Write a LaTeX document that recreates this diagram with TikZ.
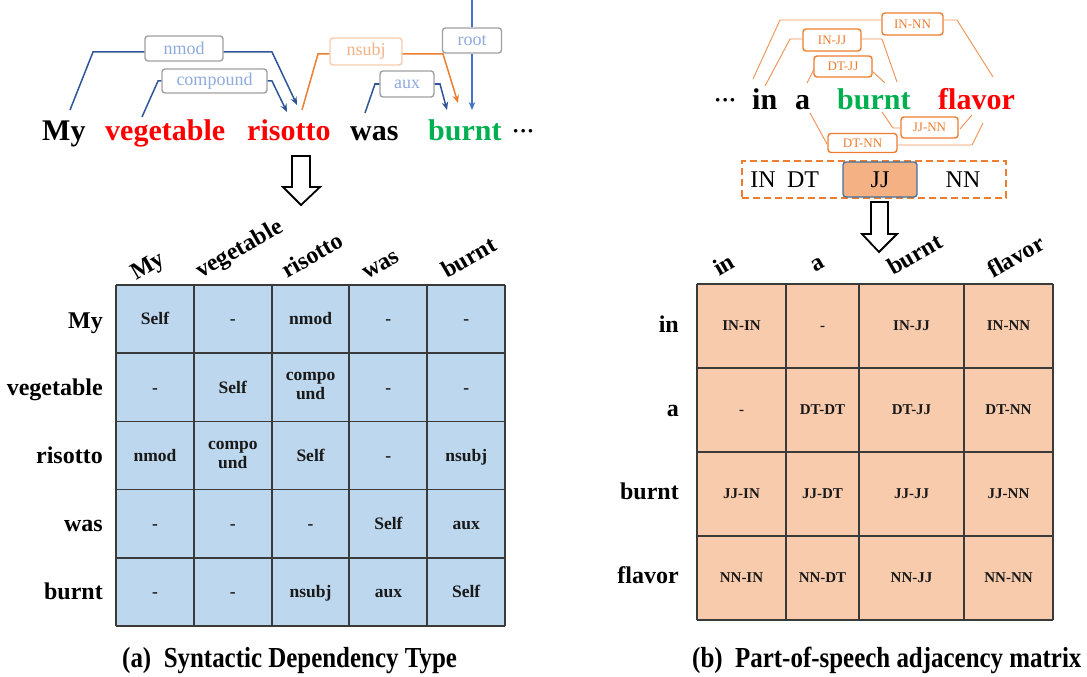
\documentclass[tikz,border=0pt]{standalone}
\usepackage{fontspec}
\setmainfont{Liberation Serif}
\usetikzlibrary{arrows.meta,calc}
\definecolor{depblue}{HTML}{2F5597}
\definecolor{rootblue}{HTML}{4472C4}
\definecolor{tagblue}{HTML}{8FAADC}
\definecolor{taggray}{HTML}{A0A0A0}
\definecolor{deporange}{HTML}{ED7D31}
\definecolor{nsubjtext}{HTML}{F4B183}
\definecolor{nsubjbox}{HTML}{F8CBAD}
\definecolor{posorange}{HTML}{ED7D31}
\definecolor{jjfill}{HTML}{F4B183}
\definecolor{jjborder}{HTML}{41719C}
\definecolor{bluefill}{HTML}{BDD7EE}
\definecolor{peachfill}{HTML}{F8CBAD}
\definecolor{wred}{HTML}{FF0000}
\definecolor{wgreen}{HTML}{00B050}
\definecolor{gridgray}{HTML}{3A3A3A}
\begin{document}
\begin{tikzpicture}[x=1pt,y=-1pt,
  word/.style={font=\fontsize{30}{36}\selectfont\bfseries, inner sep=0pt, anchor=base west},
  dots/.style={font=\fontsize{22}{26}\selectfont\bfseries, inner sep=0pt, anchor=base west},
  rowlbl/.style={font=\fontsize{24}{28}\selectfont\bfseries, inner sep=0pt, anchor=base east},
  collbl/.style={font=\fontsize{24}{28}\selectfont\bfseries, inner sep=0pt, anchor=base west, rotate=30},
  cellL/.style={font=\fontsize{17.5}{19}\selectfont\bfseries, align=center, inner sep=0pt, text=black!90,
     execute at begin node=\strut, execute at end node=\strut},
  cellR/.style={font=\fontsize{15}{18}\selectfont\bfseries, inner sep=0pt, text=black!90,
     execute at begin node=\strut},
  deptag/.style={draw=taggray, line width=1.4pt, rounded corners=3pt, fill=white, inner sep=0pt,
     font=\fontsize{18}{20}\selectfont, text=tagblue},
  postag/.style={draw=posorange, line width=1.4pt, rounded corners=3pt, fill=white, inner sep=0pt,
     font=\fontsize{13}{15}\selectfont, text=posorange},
  dep/.style={line width=1.5pt, draw=depblue},
  deparrow/.style={dep, -{Stealth[length=8pt,width=6.5pt]}},
  posline/.style={line width=0.9pt, draw=posorange!85},
  gridL/.style={draw=gridgray, line width=1.5pt},
  gridR/.style={draw=gridgray, line width=1.3pt},
  bigarrow/.style={draw=black, line width=1.8pt, fill=white, line join=miter},
  poslbl/.style={font=\fontsize{24}{28}\selectfont, inner sep=0pt},
  captext/.style={font=\fontsize{29}{32}\selectfont\bfseries, inner sep=0pt, anchor=base west}
]
\useasboundingbox (0,0) rectangle (1087,677);

% ---------------- (a) sentence ----------------
\node[word] (wMy) at (42,140) {My};
\node[word, text=wred] (wVeg) at (105,140) {vegetable};
\node[word, text=wred] (wRis) at (247,140) {risotto};
\node[word] (wWas) at (350,140) {was};
\node[word, text=wgreen] (wBurnt) at (428,140) {burnt};
\node[dots] (wDots) at (512,138) {···};

% dependency tags
\node[deptag, minimum width=78pt, minimum height=25pt] (tNmod) at (184,48.5) {nmod};
\node[deptag, minimum width=105pt, minimum height=24pt] (tComp) at (214.5,81) {compound};
\node[deptag, draw=nsubjbox, text=nsubjtext, minimum width=72pt, minimum height=27pt] (tNsubj) at (366,51.5) {nsubj};
\node[deptag, minimum width=54pt, minimum height=26pt] (tAux) at (407,84) {aux};
\node[deptag, minimum width=59pt, minimum height=25pt] (tRoot) at (472,40.5) {root};

\coordinate (nmodS) at (70,110);   \coordinate (nmodA) at (93,52);
\coordinate (nmodB) at (272,52);   \coordinate (nmodE) at (297,105);
\coordinate (compS) at (142,117);  \coordinate (compA) at (158,81);
\coordinate (compB) at (272,81);   \coordinate (compE) at (287,112);
\coordinate (nsubjS) at (302,110); \coordinate (nsubjA) at (318,54);
\coordinate (nsubjB) at (443,54);  \coordinate (nsubjE) at (458,103);
\coordinate (auxS) at (365,113);   \coordinate (auxA) at (375,84);
\coordinate (auxB) at (440,84);    \coordinate (auxE) at (447,110);
\coordinate (rootS) at (472,0);    \coordinate (rootE) at (472,110);

\draw[dep] (nmodS) -- (nmodA) -- (tNmod.west |- nmodA);
\draw[deparrow] (tNmod.east |- nmodB) -- (nmodB) -- (nmodE);
\draw[dep] (compS) -- (compA) -- (tComp.west |- compA);
\draw[deparrow] (tComp.east |- compB) -- (compB) -- (compE);
\draw[dep, draw=deporange] (nsubjS) -- (nsubjA) -- (tNsubj.west |- nsubjA);
\draw[deparrow, draw=deporange] (tNsubj.east |- nsubjB) -- (nsubjB) -- (nsubjE);
\draw[dep] (auxS) -- (auxA) -- (tAux.west |- auxA);
\draw[deparrow] (tAux.east |- auxB) -- (auxB) -- (auxE);
\draw[dep, draw=rootblue] (rootS) -- (tRoot.north);
\draw[deparrow, draw=rootblue] (tRoot.south) -- (rootE);

% big arrow (a)
\draw[bigarrow] (292,156) -- (310,156) -- (310,187) -- (320,187) -- (301,205) -- (283,187) -- (292,187) -- cycle;

% ---------------- (a) matrix ----------------
\fill[bluefill] (116,285) rectangle (505,626);
\foreach \x in {116,194,272,349,427,505} \draw[gridL] (\x,285) -- (\x,626);
\foreach \y in {285,353.2,421.4,489.6,557.8,626} \draw[gridL] (116,\y) -- (505,\y);

\node[collbl] (cMy) at (136,281) {My};
\node[collbl] (cVeg) at (201,279) {vegetable};
\node[collbl] (cRis) at (287,279) {risotto};
\node[collbl] (cWas) at (367,280) {was};
\node[collbl] (cBurnt) at (447,279) {burnt};

\node[rowlbl] (rMy) at (103,328) {My};
\node[rowlbl] (rVeg) at (103,395) {vegetable};
\node[rowlbl] (rRis) at (103,463) {risotto};
\node[rowlbl] (rWas) at (103,531) {was};
\node[rowlbl] (rBurnt) at (103,599) {burnt};

\foreach \t [count=\k from 0] in {Self,-,nmod,-,-,
  -,Self,{compo\\und},-,-,
  nmod,{compo\\und},Self,-,nsubj,
  -,-,-,Self,aux,
  -,-,nsubj,aux,Self}{
  \pgfmathtruncatemacro\r{floor(\k/5)}
  \pgfmathtruncatemacro\c{mod(\k,5)}
  \node[cellL] (L\r\c) at ({155+77.8*\c},{321+68.2*\r}) {\t};
}

% ---------------- (b) sentence ----------------
\node[dots] (pDots) at (714,107) {···};
\node[word] (pIn) at (752,109) {in};
\node[word] (pA) at (795,109) {a};
\node[word, text=wgreen] (pBurnt) at (837,109) {burnt};
\node[word, text=wred] (pFlavor) at (938,109) {flavor};

\node[postag, minimum width=61pt, minimum height=22pt] (tINNN) at (912.5,24) {IN-NN};
\node[postag, minimum width=58pt, minimum height=22pt] (tINJJ) at (832,40) {IN-JJ};
\node[postag, minimum width=58pt, minimum height=21pt] (tDTJJ) at (843,66.5) {DT-JJ};
\node[postag, minimum width=57pt, minimum height=21pt] (tJJNN) at (929.5,127.5) {JJ-NN};
\node[postag, minimum width=69pt, minimum height=19pt] (tDTNN) at (862.5,143) {DT-NN};

\coordinate (innnS) at (753,79);  \coordinate (innnA) at (780,20);
\coordinate (innnB) at (957,20);  \coordinate (innnE) at (993,77);
\coordinate (injjS) at (765,86);  \coordinate (injjA) at (790,39);
\coordinate (injjB) at (882,39);  \coordinate (injjE) at (897,82);
\coordinate (dtjjS) at (807,83);  \coordinate (dtjjA) at (814,69);
\coordinate (dtjjB) at (872,71);  \coordinate (dtjjE) at (885,83);
\coordinate (jjnnS) at (882,112); \coordinate (jjnnA) at (893,128);
\coordinate (jjnnB) at (960,129); \coordinate (jjnnE) at (972,115);
\coordinate (dtnnS) at (810,113); \coordinate (dtnnA) at (827,144);
\coordinate (dtnnB) at (972,145); \coordinate (dtnnE) at (983,123);

\draw[posline] (innnS) -- (innnA) -- (tINNN.west |- innnA);
\draw[posline] (tINNN.east |- innnB) -- (innnB) -- (innnE);
\draw[posline] (injjS) -- (injjA) -- (tINJJ.west |- injjA);
\draw[posline] (tINJJ.east |- injjB) -- (injjB) -- (injjE);
\draw[posline] (dtjjS) -- (dtjjA);
\draw[posline] (dtjjB) -- (dtjjE);
\draw[posline] (jjnnS) -- (jjnnA) -- (tJJNN.west |- jjnnA);
\draw[posline] (jjnnB) -- (jjnnE);
\draw[posline] (dtnnS) -- (dtnnA) -- (tDTNN.west |- dtnnA);
\draw[posline] (tDTNN.east |- dtnnB) -- (dtnnB) -- (dtnnE);

% POS sequence
\node[draw=posorange, dash pattern=on 7pt off 4pt, line width=1.8pt, minimum width=264pt, minimum height=37pt, inner sep=0pt] (posBox) at (874,179.5) {};
\node[draw=jjborder, fill=jjfill, rounded corners=3pt, line width=1.3pt, minimum width=74pt, minimum height=35pt, inner sep=0pt] (posJJ) at (880,179.5) {};
\node[poslbl] (posIN) at (763,180) {IN};
\node[poslbl] (posDT) at (803,180) {DT};
\node[poslbl] (posJJt) at (880,180) {JJ};
\node[poslbl] (posNN) at (963,180) {NN};

% big arrow (b)
\draw[bigarrow] (871,202) -- (888,202) -- (888,234) -- (897,234) -- (879,252) -- (862,234) -- (871,234) -- cycle;

% ---------------- (b) matrix ----------------
\fill[peachfill] (697,284) rectangle (1053,620);
\foreach \x in {697,786,859,964,1053} \draw[gridR] (\x,284) -- (\x,620);
\foreach \y in {284,368,452,536,620} \draw[gridR] (697,\y) -- (1053,\y);

\node[collbl] (qIn) at (719,277) {in};
\node[collbl] (qA) at (815,273) {a};
\node[collbl] (qBurnt) at (893,276) {burnt};
\node[collbl] (qFlavor) at (993,279) {flavor};

\node[rowlbl] (sIn) at (679,332) {in};
\node[rowlbl] (sA) at (679,416) {a};
\node[rowlbl] (sBurnt) at (679,499) {burnt};
\node[rowlbl] (sFlavor) at (679,583) {flavor};

\foreach \t [count=\k from 0] in {IN-IN,-,IN-JJ,IN-NN,
  -,DT-DT,DT-JJ,DT-NN,
  JJ-IN,JJ-DT,JJ-JJ,JJ-NN,
  NN-IN,NN-DT,NN-JJ,NN-NN}{
  \pgfmathtruncatemacro\r{floor(\k/4)}
  \pgfmathtruncatemacro\c{mod(\k,4)}
  \pgfmathsetmacro\xx{{741.5,822.5,911.5,1008.5}[\c]}
  \node[cellR] (R\r\c) at (\xx,{327+84*\r}) {\t};
}

% captions
\node[captext] (capA) at (122,667) {\scalebox{0.86}[1]{(a)\ \ Syntactic Dependency Type}};
\node[captext] (capB) at (692,667) {\scalebox{0.86}[1]{(b)\ \ Part-of-speech adjacency matrix}};
\end{tikzpicture}
\end{document}
